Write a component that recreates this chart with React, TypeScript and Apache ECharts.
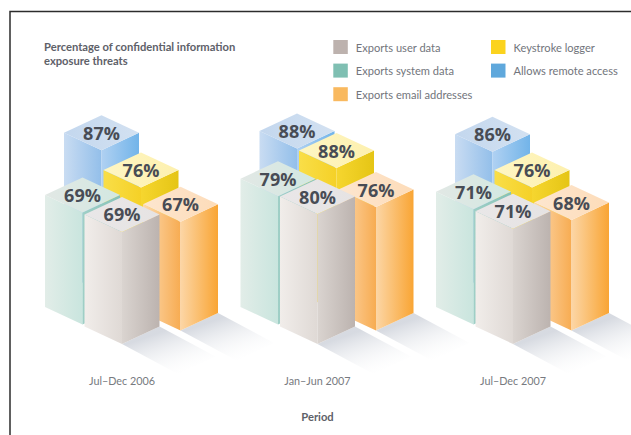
import React, { useEffect, useRef } from "react";
import * as echarts from "echarts";

const periods = ["Jul–Dec 2006", "Jan–Jun 2007", "Jul–Dec 2007"];
const exportsUserData = [69, 80, 71];
const exportsSystemData = [69, 79, 71];
const exportsEmailAddresses = [67, 76, 68];
const keystrokeLogger = [76, 88, 76];
const allowsRemoteAccess = [87, 88, 86];

const titleText = "Percentage of confidential information\nexposure threats";
const axisTitle = "Period";

const FONT = "'Open Sans', sans-serif";
const TEXT_FONT = "Lato, sans-serif";

// Half-width and half-depth of an isometric bar footprint, in pixels.
const HALF_W = 37.5;
const HALF_D = 17.5;
// Floor lattice steps between neighbouring bars of one period.
const STEP_BACK_LEFT: [number, number] = [-39.5, -19.5];
const STEP_BACK_RIGHT: [number, number] = [19, -33];
const SHADOW: [number, number] = [56, 30];

type Stop = [string, string];
interface BarStyle {
  name: string;
  values: number[];
  swatch: string;
  offset: [number, number];
  top: Stop;
  left: Stop;
  right: Stop;
  casts: boolean;
}

const horizontal = ([a, b]: Stop) => ({
  type: "linear",
  x: 0,
  y: 0,
  x2: 1,
  y2: 0,
  colorStops: [
    { offset: 0, color: a },
    { offset: 1, color: b },
  ],
});

const add = (a: [number, number], b: [number, number]): [number, number] => [a[0] + b[0], a[1] + b[1]];
const neg = (a: [number, number]): [number, number] => [-a[0], -a[1]];

// Painted back to front, so the nearest bar ends up on top.
const bars: BarStyle[] = [
  {
    name: "Allows remote access",
    values: allowsRemoteAccess,
    swatch: "#5fa8dc",
    offset: add(STEP_BACK_LEFT, STEP_BACK_RIGHT),
    top: ["#c3d7ee", "#d3e1f1"],
    left: ["#c9dcf2", "#93bfea"],
    right: ["#b0d1f2", "#72b4e9"],
    casts: false,
  },
  {
    name: "Keystroke logger",
    values: keystrokeLogger,
    swatch: "#fbd31e",
    offset: STEP_BACK_RIGHT,
    top: ["#fef6c4", "#fdf0ae"],
    left: ["#f9de48", "#f5d127"],
    right: ["#f6d62f", "#e5c515"],
    casts: false,
  },
  {
    name: "Exports system data",
    values: exportsSystemData,
    swatch: "#7fbfb2",
    offset: STEP_BACK_LEFT,
    top: ["#e2e8e5", "#d2e8e1"],
    left: ["#e2ede8", "#c9e5de"],
    right: ["#9fcfc6", "#86c2b8"],
    casts: false,
  },
  {
    name: "Exports email addresses",
    values: exportsEmailAddresses,
    swatch: "#f9b95f",
    offset: add(STEP_BACK_RIGHT, neg(STEP_BACK_LEFT)),
    top: ["#fde6cf", "#fddcb9"],
    left: ["#fdd9ae", "#f7ac52"],
    right: ["#fcd6a6", "#f9a534"],
    casts: true,
  },
  {
    name: "Exports user data",
    values: exportsUserData,
    swatch: "#bdb2ae",
    offset: [0, 0],
    top: ["#e9e7e8", "#e6e3e3"],
    left: ["#f1edea", "#dfd9d5"],
    right: ["#dad4d0", "#bcb3af"],
    casts: true,
  },
];

const renderBar = (style: BarStyle) => (_: unknown, api: any) => {
  const cat = api.value(0);
  const value = api.value(1);
  const base = api.coord([cat, 0]);
  const head = api.coord([cat, value]);
  const x = base[0] + style.offset[0];
  const y = base[1] + style.offset[1];
  const t = head[1] + style.offset[1];

  const children: any[] = [];
  if (style.casts) {
    children.push({
      type: "polygon",
      shape: {
        points: [
          [x + HALF_W, y - HALF_D],
          [x, y],
          [x + SHADOW[0], y + SHADOW[1]],
          [x + HALF_W + SHADOW[0], y - HALF_D + SHADOW[1]],
        ],
      },
      style: {
        fill: {
          type: "linear",
          x: 0.3,
          y: 0.2,
          x2: 0.8,
          y2: 0.9,
          colorStops: [
            { offset: 0, color: "rgba(208,212,220,0.85)" },
            { offset: 1, color: "rgba(248,249,250,0)" },
          ],
        },
      },
    });
  }
  children.push(
    {
      type: "polygon",
      shape: { points: [[x - HALF_W, t - HALF_D], [x, t], [x, y], [x - HALF_W, y - HALF_D]] },
      style: { fill: horizontal(style.left) },
    },
    {
      type: "polygon",
      shape: { points: [[x, t], [x + HALF_W, t - HALF_D], [x + HALF_W, y - HALF_D], [x, y]] },
      style: { fill: horizontal(style.right) },
    },
    {
      type: "polygon",
      shape: { points: [[x, t], [x - HALF_W, t - HALF_D], [x, t - 2 * HALF_D], [x + HALF_W, t - HALF_D]] },
      style: { fill: horizontal(style.top) },
    },
    {
      type: "text",
      style: {
        x,
        y: t - HALF_D,
        text: `${value}%`,
        fill: "#484c55",
        font: `700 18px ${FONT}`,
        textAlign: "center",
        textVerticalAlign: "middle",
      },
    }
  );
  return { type: "group", children };
};

const legendColumn = (names: string[], left: number) => ({
  show: true,
  orient: "vertical" as const,
  left,
  top: 40,
  padding: 0,
  itemWidth: 14.5,
  itemHeight: 14,
  itemGap: 9.6,
  icon: "rect",
  selectedMode: false,
  data: names,
  textStyle: { fontFamily: TEXT_FONT, fontSize: 11.1, color: "#72757c", padding: [0, 0, 0, 3] },
});

export default function App() {
  const ref = useRef<HTMLDivElement>(null);

  useEffect(() => {
    document.body.style.margin = "0";
    const chart = echarts.init(ref.current!, undefined, { renderer: "svg" });
    chart.setOption({
      animation: false,
      backgroundColor: "#ffffff",
      title: {
        text: titleText,
        left: 44,
        top: 40,
        padding: 0,
        textStyle: {
          fontFamily: TEXT_FONT,
          fontSize: 11.2,
          fontWeight: 700,
          lineHeight: 13.5,
          color: "#5e6169",
        },
      },
      legend: [
        legendColumn(["Exports user data", "Exports system data", "Exports email addresses"], 333.3),
        legendColumn(["Keystroke logger", "Allows remote access"], 491),
      ],
      grid: { left: 24.25, width: 586.5, top: 181.5, height: 162.5 },
      xAxis: {
        type: "category",
        data: periods,
        axisLine: { show: false },
        axisTick: { show: false },
        axisLabel: { margin: 31, fontFamily: TEXT_FONT, fontSize: 10.8, color: "#777a80" },
        name: axisTitle,
        nameLocation: "middle",
        nameGap: 67,
        nameTextStyle: { fontFamily: TEXT_FONT, fontSize: 11.2, fontWeight: 700, color: "#5e6169" },
      },
      yAxis: { type: "value", min: 0, max: 100, show: false },
      series: bars.map((b, i) => ({
        type: "custom",
        name: b.name,
        z: 2 + i,
        itemStyle: { color: b.swatch },
        encode: { x: 0, y: 1 },
        data: b.values.map((v, c) => [c, v]),
        renderItem: renderBar(b),
      })),
      graphic: [
        {
          type: "polyline",
          shape: { points: [[631, 11.5], [10, 11.5], [10, 435]] },
          style: { stroke: "#2c2c2c", lineWidth: 1.5, fill: "none" },
          silent: true,
        },
      ],
    });
    return () => chart.dispose();
  }, []);

  return <div ref={ref} style={{ width: 631, height: 435 }} />;
}
